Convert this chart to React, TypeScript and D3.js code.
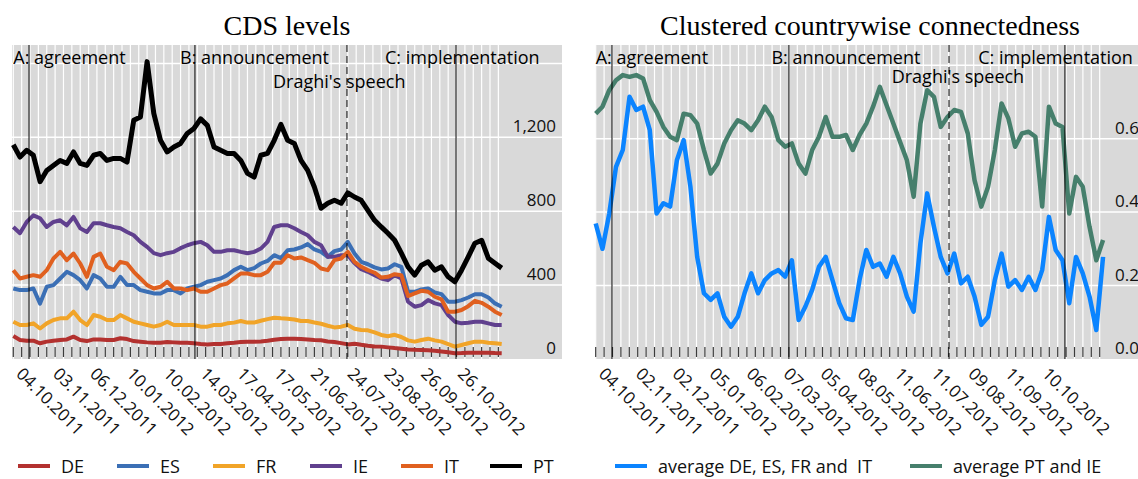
import React, { useEffect, useRef } from "react";
import * as d3 from "d3";

// tick labels (every 22 observations)
const cdsDateLabels = [
  "04.10.2011", "03.11.2011", "06.12.2011", "10.01.2012", "10.02.2012", "14.03.2012", "17.04.2012",
  "17.05.2012", "21.06.2012", "24.07.2012", "23.08.2012", "26.09.2012", "26.10.2012",
];
const connDateLabels = [
  "04.10.2011", "02.11.2011", "02.12.2011", "05.01.2012", "06.02.2012", "07.03.2012", "05.04.2012",
  "08.05.2012", "11.06.2012", "11.07.2012", "09.08.2012", "11.09.2012", "10.10.2012",
];

// CDS levels (bp), sampled evenly over the period
const cdsDE = [
  124, 103, 99, 99, 85, 94, 99, 103, 106, 121, 103, 97, 106, 106, 103, 103, 112, 108, 97, 94, 90, 88, 88, 92, 90,
  88, 88, 85, 81, 79, 81, 81, 85, 88, 92, 94, 94, 95, 99, 104, 108, 110, 110, 108, 106, 103, 101, 95, 92, 86, 79,
  83, 77, 72, 68, 67, 63, 59, 56, 52, 50, 49, 47, 45, 41, 36, 31, 32, 34, 34, 34, 34, 32, 31,
];
const cdsES = [
  382, 373, 373, 382, 300, 391, 400, 436, 472, 454, 427, 382, 454, 436, 391, 391, 445, 400, 400, 373, 364, 355,
  355, 373, 373, 355, 382, 391, 400, 418, 427, 436, 454, 481, 499, 481, 492, 517, 531, 562, 546, 589, 593, 604,
  622, 593, 580, 553, 584, 593, 634, 571, 526, 513, 496, 485, 490, 513, 499, 364, 364, 377, 382, 360, 351, 310,
  310, 319, 333, 351, 351, 333, 301, 283,
];
const cdsFR = [
  202, 184, 184, 193, 165, 193, 211, 220, 220, 256, 211, 184, 238, 229, 211, 211, 238, 220, 202, 193, 184, 175,
  184, 202, 184, 184, 184, 184, 175, 175, 184, 184, 193, 197, 206, 197, 197, 207, 216, 223, 220, 218, 214, 206,
  206, 198, 191, 180, 171, 175, 184, 164, 157, 155, 144, 130, 123, 131, 119, 101, 94, 103, 110, 101, 94, 81, 67,
  76, 85, 94, 94, 88, 85, 81,
];
const cdsIE = [
  715, 681, 742, 778, 762, 715, 742, 751, 724, 769, 708, 688, 735, 735, 724, 715, 708, 688, 670, 634, 607, 573,
  562, 573, 580, 600, 616, 627, 634, 616, 580, 580, 589, 589, 580, 573, 580, 598, 634, 715, 724, 724, 708, 688,
  670, 634, 616, 553, 553, 562, 562, 519, 486, 472, 454, 436, 427, 454, 436, 310, 283, 292, 319, 301, 292, 238,
  202, 193, 196, 202, 202, 193, 184, 184,
];
const cdsIT = [
  481, 436, 445, 454, 445, 481, 544, 580, 535, 571, 517, 445, 553, 571, 499, 481, 526, 517, 472, 436, 400, 382,
  391, 418, 382, 382, 373, 382, 364, 364, 382, 400, 409, 436, 463, 463, 454, 454, 472, 521, 521, 562, 544, 550,
  535, 521, 490, 481, 535, 544, 580, 526, 499, 481, 467, 441, 445, 459, 454, 341, 355, 369, 364, 337, 323, 256,
  256, 265, 286, 315, 304, 283, 256, 238,
];
const cdsPT = [
  1160, 1093, 1130, 1103, 960, 1021, 1048, 1075, 1059, 1121, 1059, 1048, 1103, 1113, 1075, 1086, 1086, 1066,
  1292, 1310, 1610, 1330, 1184, 1121, 1148, 1167, 1221, 1248, 1300, 1265, 1148, 1130, 1113, 1113, 1075, 1005,
  985, 1103, 1113, 1184, 1270, 1184, 1167, 1075, 1021, 931, 816, 843, 859, 843, 900, 877, 859, 805, 751, 715,
  681, 643, 573, 499, 454, 508, 526, 481, 499, 445, 418, 481, 553, 627, 643, 546, 519, 492,
];

// clustered countrywise connectedness
const connCore = [
  0.369, 0.3, 0.396, 0.523, 0.569, 0.714, 0.678, 0.687, 0.623, 0.396, 0.424, 0.415, 0.541, 0.596, 0.469, 0.278,
  0.179, 0.161, 0.179, 0.115, 0.088, 0.115, 0.179, 0.233, 0.179, 0.215, 0.233, 0.242, 0.224, 0.269, 0.106, 0.143,
  0.188, 0.251, 0.278, 0.215, 0.152, 0.111, 0.106, 0.215, 0.297, 0.251, 0.26, 0.224, 0.278, 0.233, 0.17, 0.129,
  0.315, 0.451, 0.36, 0.278, 0.233, 0.287, 0.206, 0.224, 0.17, 0.093, 0.115, 0.215, 0.287, 0.197, 0.215, 0.188,
  0.224, 0.188, 0.242, 0.387, 0.297, 0.269, 0.152, 0.278, 0.233, 0.17, 0.079, 0.278,
];
const connPeriphery = [
  0.668, 0.687, 0.732, 0.759, 0.773, 0.768, 0.773, 0.764, 0.705, 0.673, 0.632, 0.605, 0.596, 0.668, 0.664, 0.641,
  0.569, 0.505, 0.532, 0.587, 0.623, 0.65, 0.641, 0.623, 0.65, 0.687, 0.659, 0.596, 0.578, 0.587, 0.532, 0.505,
  0.569, 0.605, 0.659, 0.605, 0.605, 0.61, 0.569, 0.61, 0.641, 0.687, 0.741, 0.691, 0.641, 0.591, 0.541, 0.442,
  0.641, 0.732, 0.714, 0.632, 0.659, 0.678, 0.673, 0.614, 0.487, 0.415, 0.469, 0.569, 0.696, 0.655, 0.578, 0.614,
  0.619, 0.605, 0.415, 0.687, 0.641, 0.632, 0.396, 0.496, 0.469, 0.36, 0.269, 0.324,
];

// event dates, in observation index
const cdsEvents = [9.4, 108.6, 264.7];
const cdsDraghi = 199.5;
const connEvents = [9.7, 115, 279.3];
const connDraghi = 210.3;

const FONT = "'Open Sans', 'Noto Sans', sans-serif";
const TOP = 45;
const BOTTOM = 359;

const panels = [
  {
    title: "CDS levels",
    bgX: 12,
    x0: 13.3,
    pxPerObs: 1.6726,
    lastObs: 292,
    yMax: 1700,
    grid: [400, 800, 1200, 1600],
    yLabels: [0, 400, 800, 1200],
    fmt: d3.format(","),
    dates: cdsDateLabels,
    events: cdsEvents,
    draghi: cdsDraghi,
    notes: [
      { text: "A: agreement", obs: 0, y: 64 },
      { text: "B: announcement", obs: 99.7, y: 64 },
      { text: "C: implementation", obs: 222.2, y: 64 },
      { text: "Draghi's speech", obs: 155.3, y: 88 },
    ],
    series: [
      { name: "DE", color: "#b3312f", values: cdsDE, width: 4 },
      { name: "ES", color: "#3b6fb5", values: cdsES, width: 4 },
      { name: "FR", color: "#f1a428", values: cdsFR, width: 4 },
      { name: "IE", color: "#60408e", values: cdsIE, width: 4 },
      { name: "IT", color: "#e0601f", values: cdsIT, width: 4 },
      { name: "PT", color: "#000000", values: cdsPT, width: 5 },
    ],
    legendX: [18, 117, 213, 310, 401, 490],
  },
  {
    title: "Clustered countrywise connectedness",
    bgX: 595,
    x0: 595.7,
    pxPerObs: 1.68,
    lastObs: 302,
    yMax: 0.855,
    grid: [0.2, 0.4, 0.6, 0.8],
    yLabels: [0, 0.2, 0.4, 0.6],
    fmt: d3.format(".1f"),
    dates: connDateLabels,
    events: connEvents,
    draghi: connDraghi,
    notes: [
      { text: "A: agreement", obs: 0, y: 64 },
      { text: "B: announcement", obs: 104.6, y: 64 },
      { text: "C: implementation", obs: 227.7, y: 64 },
      { text: "Draghi's speech", obs: 176.2, y: 83 },
    ],
    series: [
      { name: "average DE, ES, FR and  IT", color: "#0b84ff", values: connCore, width: 4.5 },
      { name: "average PT and IE", color: "#467f6c", values: connPeriphery, width: 4.5 },
    ],
    legendX: [615, 910],
  },
];

function drawPanel(svg: any, p: any) {
  const g = svg.append("g");
  const x = d3
    .scaleLinear()
    .domain([0, p.lastObs])
    .range([p.x0, p.x0 + p.pxPerObs * p.lastObs]);
  const y = d3.scaleLinear().domain([0, p.yMax]).range([BOTTOM, TOP]);

  g.append("text")
    .attr("x", p.bgX + 275)
    .attr("y", 35)
    .attr("text-anchor", "middle")
    .attr("font-family", "'Liberation Serif', serif")
    .attr("font-size", 28)
    .text(p.title);

  g.append("rect")
    .attr("x", p.bgX)
    .attr("y", TOP)
    .attr("width", 550)
    .attr("height", BOTTOM - TOP)
    .attr("fill", "#d9d9d9");

  const tickObs = d3.range(0, p.lastObs + 1, 5);

  g.selectAll("line.vgrid")
    .data(tickObs)
    .join("line")
    .attr("class", "vgrid")
    .attr("x1", (d: number) => x(d))
    .attr("x2", (d: number) => x(d))
    .attr("y1", TOP)
    .attr("y2", BOTTOM)
    .attr("stroke", "#ffffff")
    .attr("stroke-width", 1.2);

  g.selectAll("line.hgrid")
    .data(p.grid)
    .join("line")
    .attr("class", "hgrid")
    .attr("x1", p.bgX)
    .attr("x2", p.bgX + 550)
    .attr("y1", (d: number) => y(d))
    .attr("y2", (d: number) => y(d))
    .attr("stroke", "#ffffff")
    .attr("stroke-width", 1.5);

  g.selectAll("line.tick")
    .data(tickObs)
    .join("line")
    .attr("class", "tick")
    .attr("x1", (d: number) => x(d))
    .attr("x2", (d: number) => x(d))
    .attr("y1", BOTTOM - 12)
    .attr("y2", BOTTOM - 2)
    .attr("stroke", "#3a3a3a")
    .attr("stroke-width", 1.2);

  g.selectAll("text.ylab")
    .data(p.yLabels)
    .join("text")
    .attr("class", "ylab")
    .attr("x", p.bgX + 544)
    .attr("y", (d: number) => y(d) - 5)
    .attr("text-anchor", "end")
    .attr("font-family", FONT)
    .attr("font-size", 17)
    .attr("fill", "#111")
    .text((d: number) => p.fmt(d));

  g.selectAll("text.date")
    .data(p.dates)
    .join("text")
    .attr("class", "date")
    .attr("transform", (d: string, i: number) => `translate(${x(i * 22) + 2},375) rotate(45)`)
    .attr("font-family", FONT)
    .attr("font-size", 17)
    .attr("fill", "#111")
    .text((d: string) => d);

  const line = (vals: number[]) =>
    d3
      .line<number>()
      .x((d, i) => x((i * p.lastObs) / (vals.length - 1)))
      .y((d) => y(d))(vals);

  p.series.forEach((s: any) => {
    g.append("path")
      .attr("d", line(s.values))
      .attr("fill", "none")
      .attr("stroke", s.color)
      .attr("stroke-width", s.width)
      .attr("stroke-linejoin", "round");
  });

  g.selectAll("line.event")
    .data(p.events)
    .join("line")
    .attr("class", "event")
    .attr("x1", (d: number) => x(d))
    .attr("x2", (d: number) => x(d))
    .attr("y1", TOP)
    .attr("y2", BOTTOM)
    .attr("stroke", "#000")
    .attr("stroke-width", 1);

  g.append("line")
    .attr("x1", x(p.draghi))
    .attr("x2", x(p.draghi))
    .attr("y1", TOP)
    .attr("y2", BOTTOM)
    .attr("stroke", "#000")
    .attr("stroke-width", 1)
    .attr("stroke-dasharray", "7,4");

  g.selectAll("text.note")
    .data(p.notes)
    .join("text")
    .attr("class", "note")
    .attr("x", (d: any) => x(d.obs))
    .attr("y", (d: any) => d.y)
    .attr("font-family", FONT)
    .attr("font-size", 18)
    .attr("fill", "#000")
    .text((d: any) => d.text);

  const legend = g
    .selectAll("g.legend")
    .data(p.series)
    .join("g")
    .attr("class", "legend")
    .attr("transform", (d: any, i: number) => `translate(${p.legendX[i]},466)`);
  legend
    .append("line")
    .attr("x1", 0)
    .attr("x2", 32)
    .attr("stroke", (d: any) => d.color)
    .attr("stroke-width", 4);
  legend
    .append("text")
    .attr("x", 43)
    .attr("y", 6.5)
    .attr("font-family", FONT)
    .attr("font-size", 18)
    .attr("fill", "#111")
    .style("white-space", "pre")
    .text((d: any) => d.name);
}

export default function App() {
  const ref = useRef<SVGSVGElement>(null);

  useEffect(() => {
    const svg = d3.select(ref.current);
    svg.selectAll("*").remove();
    panels.forEach((p) => drawPanel(svg, p));
  }, []);

  return (
    <svg
      ref={ref}
      width={1138}
      height={479}
      style={{ position: "absolute", left: 0, top: 0, background: "#fff" }}
    />
  );
}
